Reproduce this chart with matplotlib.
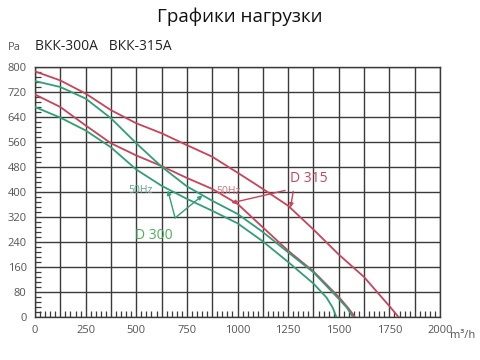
import matplotlib
matplotlib.use("Agg")
import matplotlib.pyplot as plt
from matplotlib.ticker import MultipleLocator, FuncFormatter

plt.rcParams["font.family"] = ["Open Sans", "DejaVu Sans"]

# flow (m3/h) vs pressure (Pa)
flow_r1 = [0, 125, 250, 375, 500, 625, 750, 875, 1000, 1125, 1250, 1375, 1500, 1625, 1700, 1750, 1795]
pa_r1 = [786, 757, 715, 662, 620, 588, 550, 513, 462, 410, 356, 280, 200, 128, 72, 35, 0]

flow_r2 = [0, 125, 250, 375, 500, 625, 750, 875, 1000, 1125, 1250, 1375, 1500, 1545, 1580]
pa_r2 = [712, 672, 613, 556, 517, 483, 445, 410, 362, 287, 212, 146, 64, 30, 0]

flow_g1 = [0, 125, 250, 375, 500, 625, 750, 875, 1000, 1125, 1250, 1375, 1490, 1540, 1570]
pa_g1 = [755, 736, 699, 636, 556, 481, 418, 372, 330, 272, 207, 143, 65, 30, 0]

flow_g2 = [0, 125, 250, 375, 500, 625, 750, 875, 1000, 1125, 1250, 1375, 1440, 1470, 1488]
pa_g2 = [672, 638, 597, 543, 472, 420, 378, 340, 300, 242, 176, 107, 62, 30, 0]

# annotations: (label xy), arrow tails/heads
d300_text = (494, 261)
d315_text = (1258, 444)
hz_green_text = (462, 405)
hz_red_text = (895, 400)
green_arrows = [((692, 317), (656, 405)), ((692, 317), (827, 389))]
red_arrows = [((1235, 405), (970, 365)), ((1275, 402), (1262, 350))]

RED = "#c9435a"
GREEN = "#2f9f76"

fig = plt.figure(figsize=(4.8, 3.6), dpi=100)
ax = fig.add_axes([35 / 480, 43 / 360, 405 / 480, 250 / 360])

ax.plot(flow_r1, pa_r1, color=RED, lw=1.3, zorder=3)
ax.plot(flow_r2, pa_r2, color=RED, lw=1.3, zorder=3)
ax.plot(flow_g1, pa_g1, color=GREEN, lw=1.3, zorder=3)
ax.plot(flow_g2, pa_g2, color=GREEN, lw=1.3, zorder=3)

for tail, head in green_arrows:
    ax.annotate("", xy=head, xytext=tail,
                arrowprops=dict(arrowstyle="-|>", color=GREEN, lw=1.0,
                                mutation_scale=6, shrinkA=0, shrinkB=0), zorder=4)
for tail, head in red_arrows:
    ax.annotate("", xy=head, xytext=tail,
                arrowprops=dict(arrowstyle="-|>", color=RED, lw=1.0,
                                mutation_scale=6, shrinkA=0, shrinkB=0), zorder=4)

ax.text(*d300_text, "D 300", color="#4cae5a", fontsize=10, va="center", ha="left")
ax.text(*d315_text, "D 315", color=RED, fontsize=10, va="center", ha="left")
ax.text(*hz_green_text, "50Hz", color="#5aa58a", fontsize=7.5, va="center", ha="left")
ax.text(*hz_red_text, "50Hz", color="#d0707e", fontsize=7.5, va="center", ha="left")

ax.set_xlim(0, 2000)
ax.set_ylim(0, 800)
ax.xaxis.set_major_locator(MultipleLocator(125))
ax.yaxis.set_major_locator(MultipleLocator(80))
ax.xaxis.set_minor_locator(MultipleLocator(25))
ax.yaxis.set_minor_locator(MultipleLocator(16))
ax.xaxis.set_major_formatter(FuncFormatter(lambda v, p: f"{v:.0f}" if v % 250 == 0 else ""))
ax.grid(True, which="major", color="#3a3a3a", lw=1.0, zorder=1)
for s in ax.spines.values():
    s.set_color("#3a3a3a")
    s.set_linewidth(1.0)
ax.tick_params(which="major", length=0, labelsize=8, labelcolor="#555555", pad=6)
ax.tick_params(which="minor", direction="in", length=4, color="#3a3a3a", width=0.9)
ax.tick_params(axis="x", which="minor", top=False)
ax.tick_params(axis="y", which="minor", right=False)

fig.text(0.5, 0.953, "Графики нагрузки", ha="center", va="center", fontsize=13.5, color="#111111")
fig.text(8 / 480, 1 - 47 / 360, "Pa", ha="left", va="center", fontsize=8, color="#555555")
fig.text(35 / 480, 1 - 47 / 360, "ВКК-300А   ВКК-315А", ha="left", va="center", fontsize=10, color="#222222")
fig.text(450 / 480, 1 - 335 / 360, "m³/h", ha="left", va="center", fontsize=8, color="#555555")

fig.savefig("out.png", dpi=100)
